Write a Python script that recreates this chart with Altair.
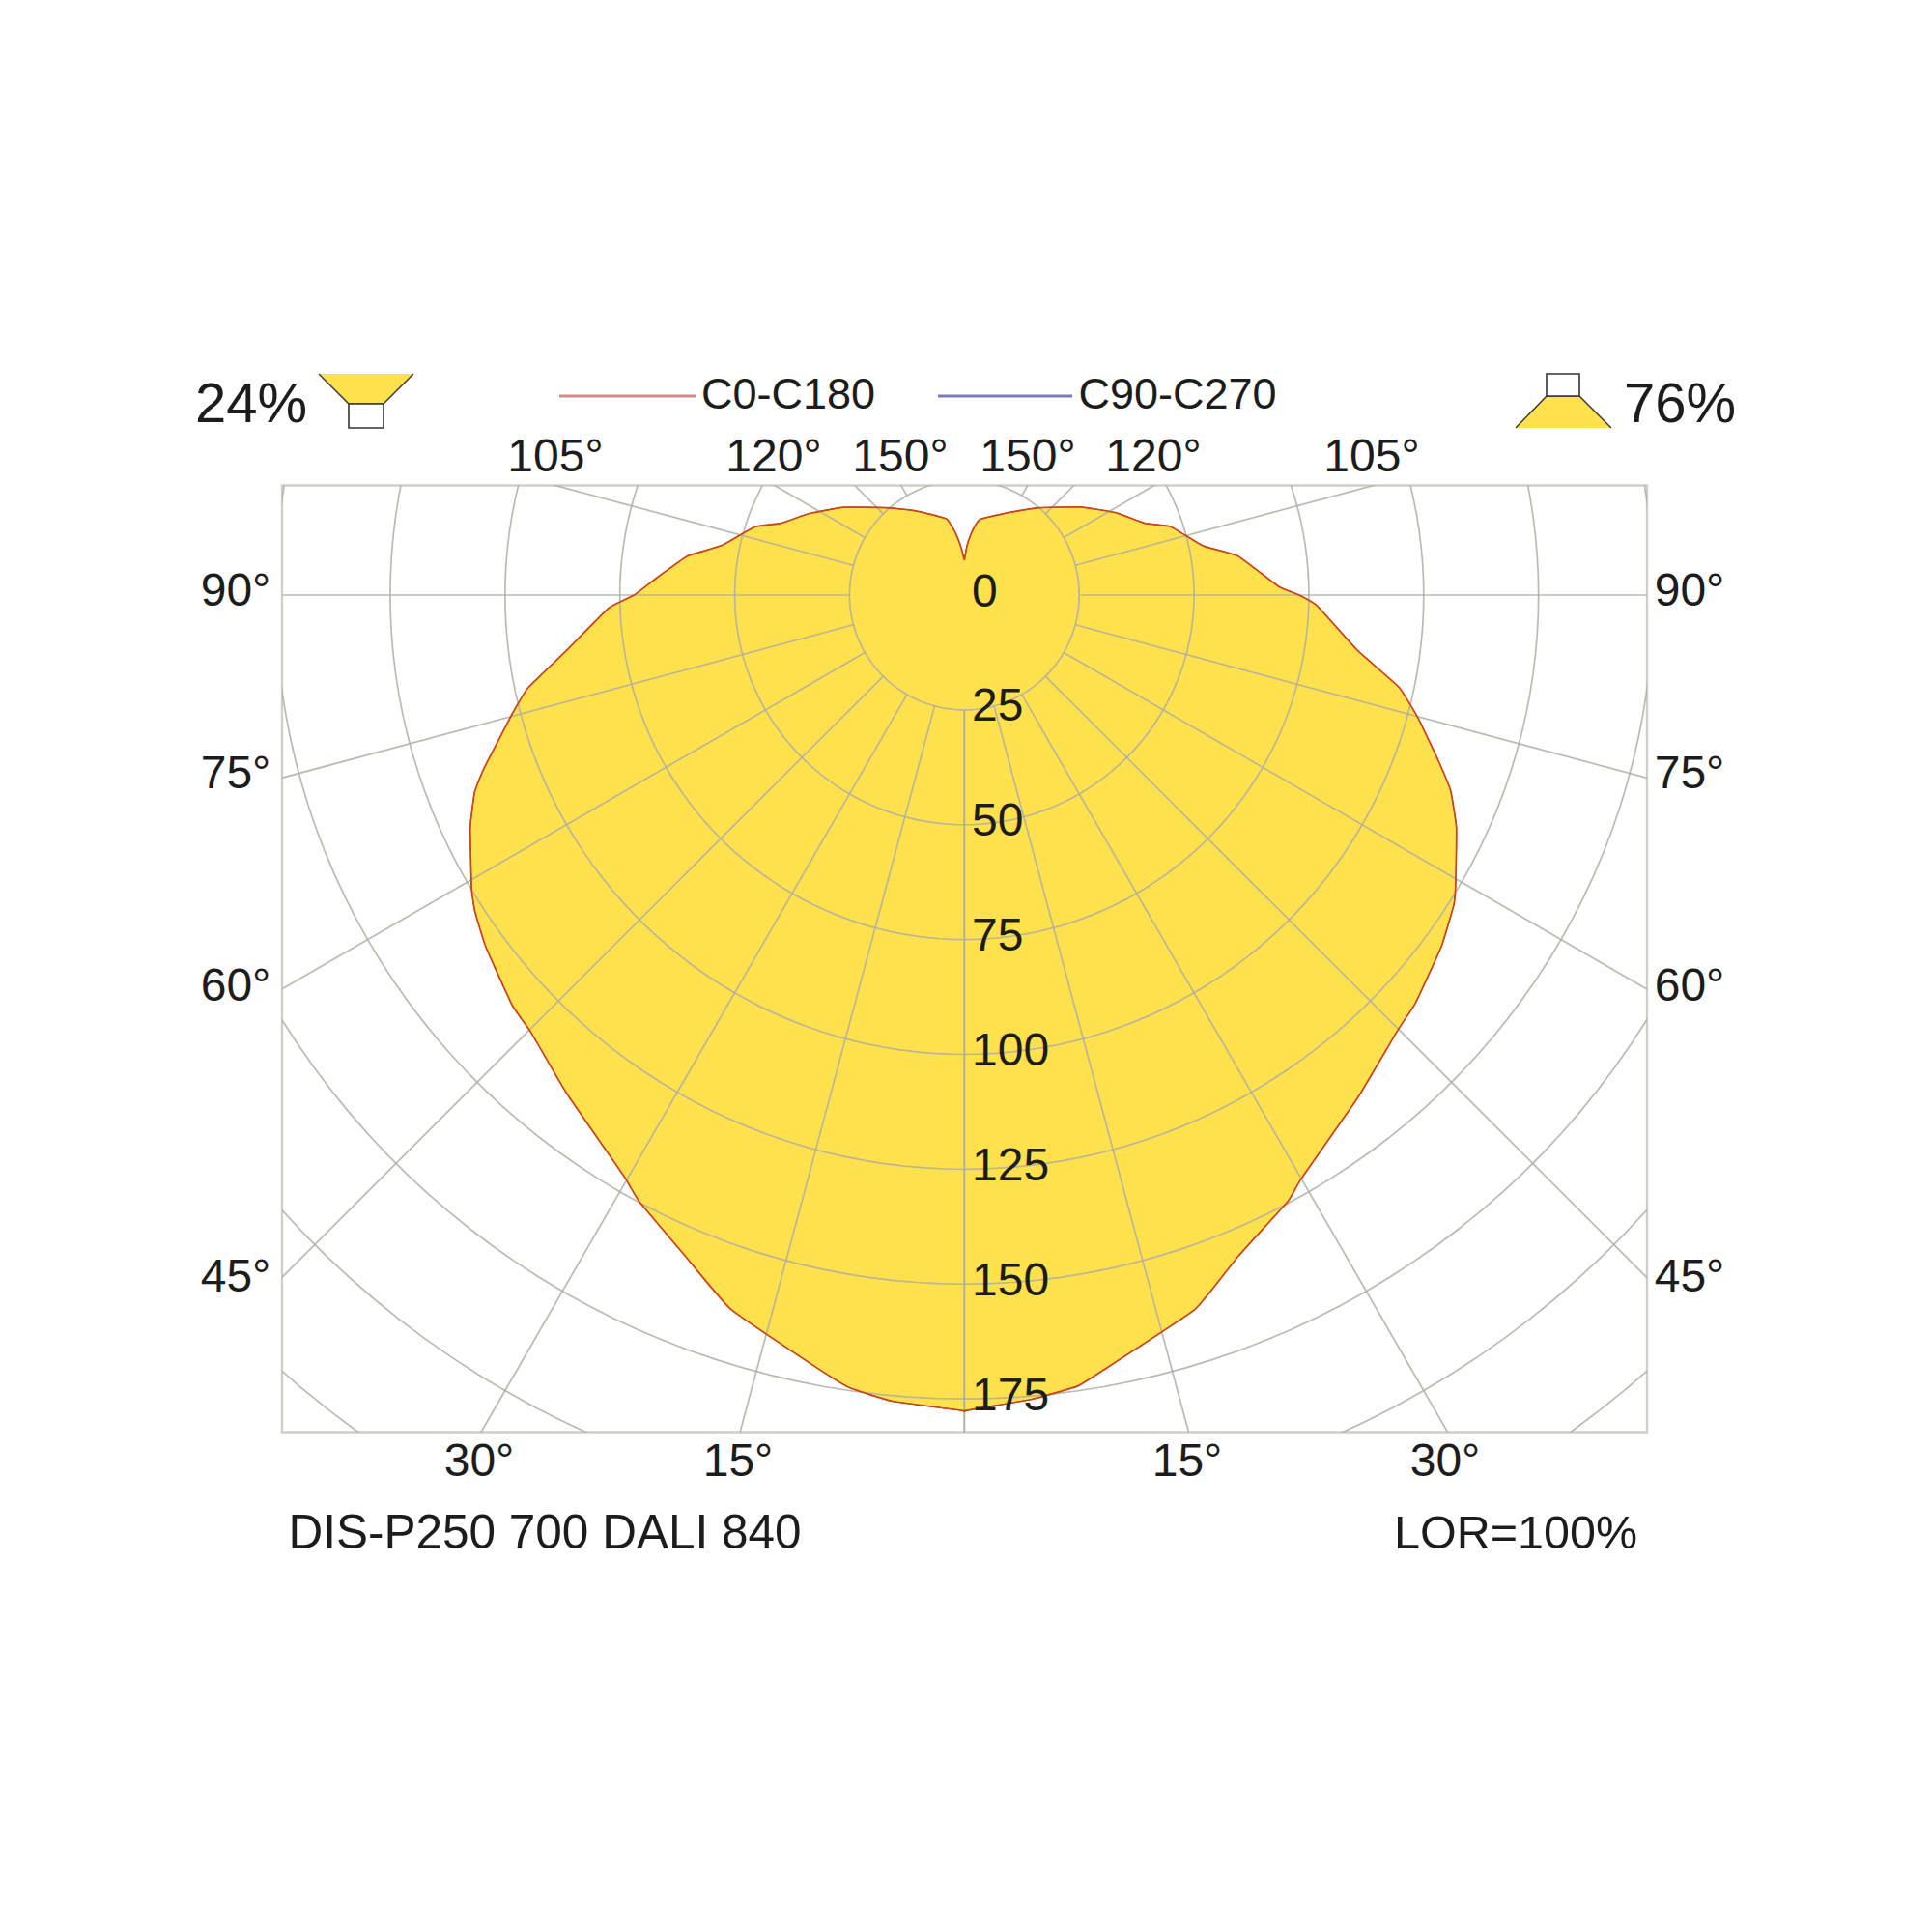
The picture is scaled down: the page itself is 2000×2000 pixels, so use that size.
import math
import altair as alt
import pandas as pd

# Luminous intensity: gamma angle (deg from straight down), cd/klm
left_angle = [180, 176.1, 171.4, 167, 155.6, 148, 138, 126, 117.8, 111.4, 108, 101.5, 98, 93.2, 90, 87.9, 82.1, 78, 75.2,
              70.2, 68.1, 64.8, 59.2, 57.1, 53.7, 47.8, 44.8, 38.6, 30.3, 28.2, 22.9, 18.1, 10.7, 8.2, 5.1, 0]
left_value = [7.6, 10.4, 14.0, 17.0, 19.5, 21.8, 25.6, 32.5, 38.1, 42.9, 48.0, 54.0, 60.9, 67.1, 71.9, 77.5, 87.4, 97.1, 101.9,
              111.1, 114.9, 118.9, 124.9, 126.9, 129.3, 132.9, 134.0, 138.8, 146.7, 149.8, 156.2, 163.6, 171.4, 174.4, 176.2, 177.6]
right_angle = [0, 4.8, 8.1, 10.1, 17.9, 22.5, 28.1, 30, 38, 44.9, 47.9, 53.6, 57.7, 59.7, 64.7, 68.1, 70.8, 74.8,
               78, 82, 88.3, 90, 91.6, 98.1, 101.7, 108.4, 111.7, 118.6, 127.2, 139.7, 154.6, 168, 170.9, 173.9, 177, 180]
right_value = [177.6, 175.7, 174.0, 171.5, 163.4, 155.8, 149.6, 146.7, 139.0, 133.7, 132.4, 129.0, 126.1, 123.9, 118.5, 114.1, 109.2, 102.4,
               96.8, 86.4, 76.8, 72.9, 68.4, 60.2, 53.0, 47.3, 42.3, 37.5, 31.7, 24.9, 19.6, 16.9, 15.5, 13.3, 10.7, 7.6]

ring_values = [25, 50, 75, 100, 125, 150, 175, 200, 225]
ring_labels = [0, 25, 50, 75, 100, 125, 150, 175]
spoke_angles = [0, 15, 30, 45, 60, 75, 90, 105, 120, 135, 150]
product = "DIS-P250 700 DALI 840"
lor = "LOR=100%"
series_names = ["C0-C180", "C90-C270"]
down_share, up_share = "24%", "76%"

FONT = "Liberation Sans"
INK = "#1c1c1c"
YELLOW = "#FFE14D"
GRID = "#aeaea4"
CX, CY, K = 998.3, 616.0, 4.755
FL, FR, FT, FB = 292.0, 1705.0, 502.5, 1482.5
ux = lambda px: (px - CX) / K
uy = lambda py: (CY - py) / K
xs = alt.Scale(domain=[ux(FL), ux(FR)], nice=False, zero=False)
ys = alt.Scale(domain=[uy(FB), uy(FT)], nice=False, zero=False)


def path(rows, mark):
    df = pd.DataFrame(rows, columns=["x", "y"])
    df["i"] = range(len(df))
    return alt.Chart(df).mark_line(**mark).encode(
        x=alt.X("x:Q", scale=xs, axis=None),
        y=alt.Y("y:Q", scale=ys, axis=None),
        order="i:Q",
    )


def polar(angle, value, side):
    return [(side * v * math.sin(math.radians(a)), -v * math.cos(math.radians(a))) for a, v in zip(angle, value)]


def label(items, size, anchor="center"):
    df = pd.DataFrame(
        [{"t": str(t), "x": ux(a), "y": uy(b)} for t, a, b in items]
    )
    return alt.Chart(df).mark_text(font=FONT, fontSize=size, color=INK, align=anchor, baseline="alphabetic").encode(
        x=alt.X("x:Q", scale=xs, axis=None),
        y=alt.Y("y:Q", scale=ys, axis=None),
        text="t:N",
    )


curve = polar(left_angle, left_value, -1) + polar(right_angle, right_value, 1)
smooth = dict(interpolate="cardinal", tension=0.65, clip=True)

layers = [path(curve, dict(fill=YELLOW, strokeWidth=0, **smooth))]

ring_steps = list(range(0, 361, 2))
for r in ring_values:
    layers.append(path(polar(ring_steps, [r] * len(ring_steps), 1),
                       dict(color=GRID, strokeWidth=1.7, opacity=0.85, clip=True)))
for a in spoke_angles:
    for side in (-1, 1):
        layers.append(path(polar([a, a], [25, 320], side),
                           dict(color=GRID, strokeWidth=1.7, opacity=0.85, clip=True)))

layers.append(path(curve, dict(color="#5050a8", strokeWidth=1.0, **smooth)))
layers.append(path(curve, dict(color="#cc4418", strokeWidth=1.7, **smooth)))

# legend
layers.append(path([(ux(579), uy(410)), (ux(720), uy(410))], dict(color="#d48a8a", strokeWidth=3.2)))
layers.append(path([(ux(971), uy(410)), (ux(1110), uy(410))], dict(color="#7a7ab8", strokeWidth=3.2)))

# downlight / uplight icons
def P(*pts):
    return [(ux(a), uy(b)) for a, b in pts]

layers.append(path(P((330, 387), (361, 418), (397, 418), (428, 387), (330, 387)), dict(fill=YELLOW, strokeWidth=0)))
layers.append(path(P((330, 387), (361, 418), (397, 418), (428, 387)), dict(color="#333333", strokeWidth=1.4)))
layers.append(path(P((361, 418), (361, 443), (397, 443), (397, 418), (361, 418)), dict(color="#333333", strokeWidth=1.6, fill="white")))
layers.append(path(P((1569, 443), (1601, 410), (1635, 410), (1668, 443), (1569, 443)), dict(fill=YELLOW, strokeWidth=0)))
layers.append(path(P((1569, 443), (1601, 410), (1635, 410), (1668, 443)), dict(color="#333333", strokeWidth=1.4)))
layers.append(path(P((1601, 410), (1601, 387), (1635, 387), (1635, 410), (1601, 410)), dict(color="#333333", strokeWidth=1.6, fill="white")))

# texts
layers.append(label([(down_share, 260, 436.5), (up_share, 1739, 436.5)], 58))
layers.append(label([(series_names[0], 816, 423), (series_names[1], 1219, 423)], 45))
layers.append(label([
    ("105°", 575, 488), ("120°", 801, 488), ("150°", 932, 488),
    ("150°", 1064, 488), ("120°", 1194, 488), ("105°", 1420, 488),
    ("90°", 244, 627), ("75°", 244, 816), ("60°", 244, 1036), ("45°", 244, 1337),
    ("90°", 1749, 627), ("75°", 1749, 816), ("60°", 1749, 1036), ("45°", 1749, 1337),
    ("30°", 496, 1528), ("15°", 764, 1528), ("15°", 1229, 1528), ("30°", 1496, 1528),
], 48))
layers.append(label([(v, 1006, CY + v * K + 11.5) for v in ring_labels], 48, "left"))
layers.append(label([(product, 564, 1603)], 49.5))
layers.append(label([(lor, 1569, 1603)], 48.5))

chart = alt.layer(*layers).properties(
    width=FR - FL,
    height=FB - FT,
    padding={"left": FL - 8, "top": FT - 8, "right": 280, "bottom": 500},
    autosize=alt.AutoSizeParams(type="none"),
    background="white",
).configure_view(stroke="#cfcfc8", strokeWidth=2.4)

chart.save("out.html", embed_options={"renderer": "svg", "actions": False})
